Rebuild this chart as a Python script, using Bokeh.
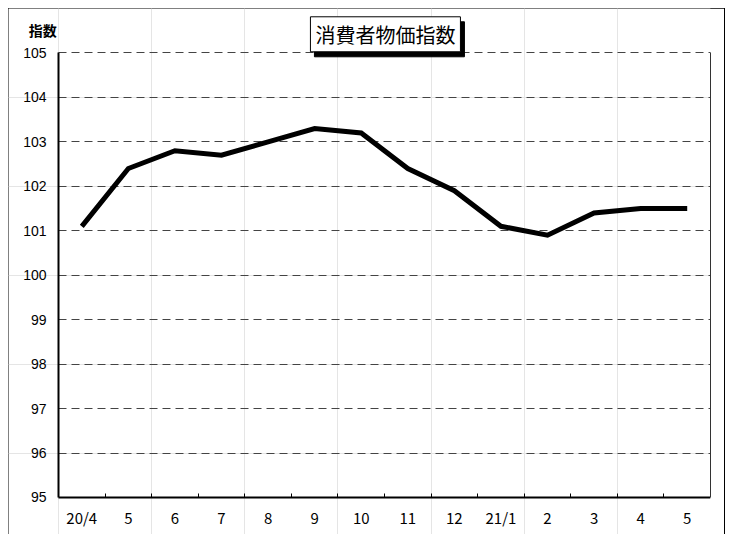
import numpy as np
from bokeh.plotting import figure
from bokeh.models import (Range1d, LinearAxis, FixedTicker, Label)
from bokeh.embed import file_html
from bokeh.resources import INLINE

# ---- data ----
months = ["20/4", "5", "6", "7", "8", "9", "10", "11", "12", "21/1", "2", "3", "4", "5"]
cpi = [101.1, 102.4, 102.8, 102.7, 103.0, 103.3, 103.2, 102.4, 101.9, 101.1, 100.9, 101.4, 101.5, 101.5]
y_ticks = [95, 96, 97, 98, 99, 100, 101, 102, 103, 104, 105]
title_text = "消費者物価指数"
y_title = "指数"

n = len(months)
centers = [i + 0.5 for i in range(n)]
bounds = list(range(1, n))
y_lo, y_hi = y_ticks[0], y_ticks[-1]

# frame covers the whole canvas; axes are pinned inside it
x_start = -50 / (652 / n)
y_start = y_lo - 38 / 44.4

p = figure(width=716, height=527, output_backend="svg", toolbar_location=None,
           x_range=Range1d(x_start, n), y_range=Range1d(y_start, 106.0),
           x_axis_location=None, y_axis_location=None,
           min_border_left=0, min_border_right=14, min_border_top=0, min_border_bottom=0,
           background_fill_color="white", border_fill_color="white",
           outline_line_color=None,
           styles={"margin": "8px 0px 0px 8px", "outline": "1px solid black",
                   "outline-offset": "-1px", "box-shadow": "1px 0px 0px black",
                   "clip-path": "inset(-2px -3px 1px -2px)"})

# y axis pinned at x=0
ya = LinearAxis(ticker=FixedTicker(ticks=y_ticks), bounds=(y_lo, y_hi), fixed_location=0)
ya.major_tick_in = 0
ya.major_tick_out = 0
ya.minor_tick_line_color = None
ya.axis_line_color = "black"
ya.axis_line_width = 2
ya.major_label_text_font = "Liberation Sans"
ya.major_label_text_font_size = "14px"
ya.major_label_text_color = "black"
ya.major_label_standoff = 12
p.add_layout(ya, "left")

# right frame edge
ra = LinearAxis(ticker=FixedTicker(ticks=[]), bounds=(y_lo, y_hi))
ra.axis_line_color = "#333333"
ra.axis_line_width = 1
ra.major_tick_line_color = None
ra.minor_tick_line_color = None
p.add_layout(ra, "right")

# bottom axis pinned at y=95: labels at centres, inward ticks at category boundaries
ax = LinearAxis(ticker=FixedTicker(ticks=centers, minor_ticks=bounds), bounds=(0, n),
                fixed_location=y_lo,
                major_label_overrides={c: m for c, m in zip(centers, months)})
ax.axis_line_color = "black"
ax.axis_line_width = 2
ax.major_tick_line_color = None
ax.major_tick_in = 0
ax.major_tick_out = 0
ax.minor_tick_line_color = "black"
ax.minor_tick_in = 4
ax.minor_tick_out = 0
ax.major_label_text_font = "Noto Sans CJK JP"
ax.major_label_text_font_size = "15px"
ax.major_label_text_color = "black"
ax.major_label_standoff = 10
p.add_layout(ax, "below")

# horizontal dashed grid
grid_style = dict(line_color="#444444", line_dash="8 5", line_width=1)
try:
    from bokeh.models import Grid
    g = Grid(dimension=1, ticker=FixedTicker(ticks=y_ticks[1:]), cross_bounds=(0, n),
             grid_line_color="#444444", grid_line_dash="8 5", grid_line_width=1)
    p.add_layout(g, "center")
except Exception:
    p.segment(x0=[0] * (len(y_ticks) - 1), x1=[n] * (len(y_ticks) - 1),
              y0=y_ticks[1:], y1=y_ticks[1:], **grid_style)

# data line
p.line(centers, cpi, line_color="black", line_width=5, line_join="miter")

# title box with shadow
tx, ty = 7.02, 105.42
shadow = Label(x=tx, y=ty, text=title_text, x_offset=4, y_offset=-5,
               text_align="center", text_baseline="middle",
               text_font="Noto Sans CJK JP", text_font_size="20px", text_color="black",
               background_fill_color="black", border_line_color="black", padding=(5, 3))
title = Label(x=tx, y=ty, text=title_text,
              text_align="center", text_baseline="middle",
              text_font="Noto Sans CJK JP", text_font_size="20px", text_color="black",
              background_fill_color="white", border_line_color="black", border_line_width=1,
              padding=(5, 3))
p.add_layout(shadow)
p.add_layout(title)

# unit label
p.add_layout(Label(x=-0.34, y=105.52, text=y_title, text_align="center", text_baseline="middle",
                   text_font="Noto Sans CJK JP", text_font_size="14px", text_font_style="bold",
                   text_color="black"))

open("out.html", "w").write(file_html(p, INLINE))
